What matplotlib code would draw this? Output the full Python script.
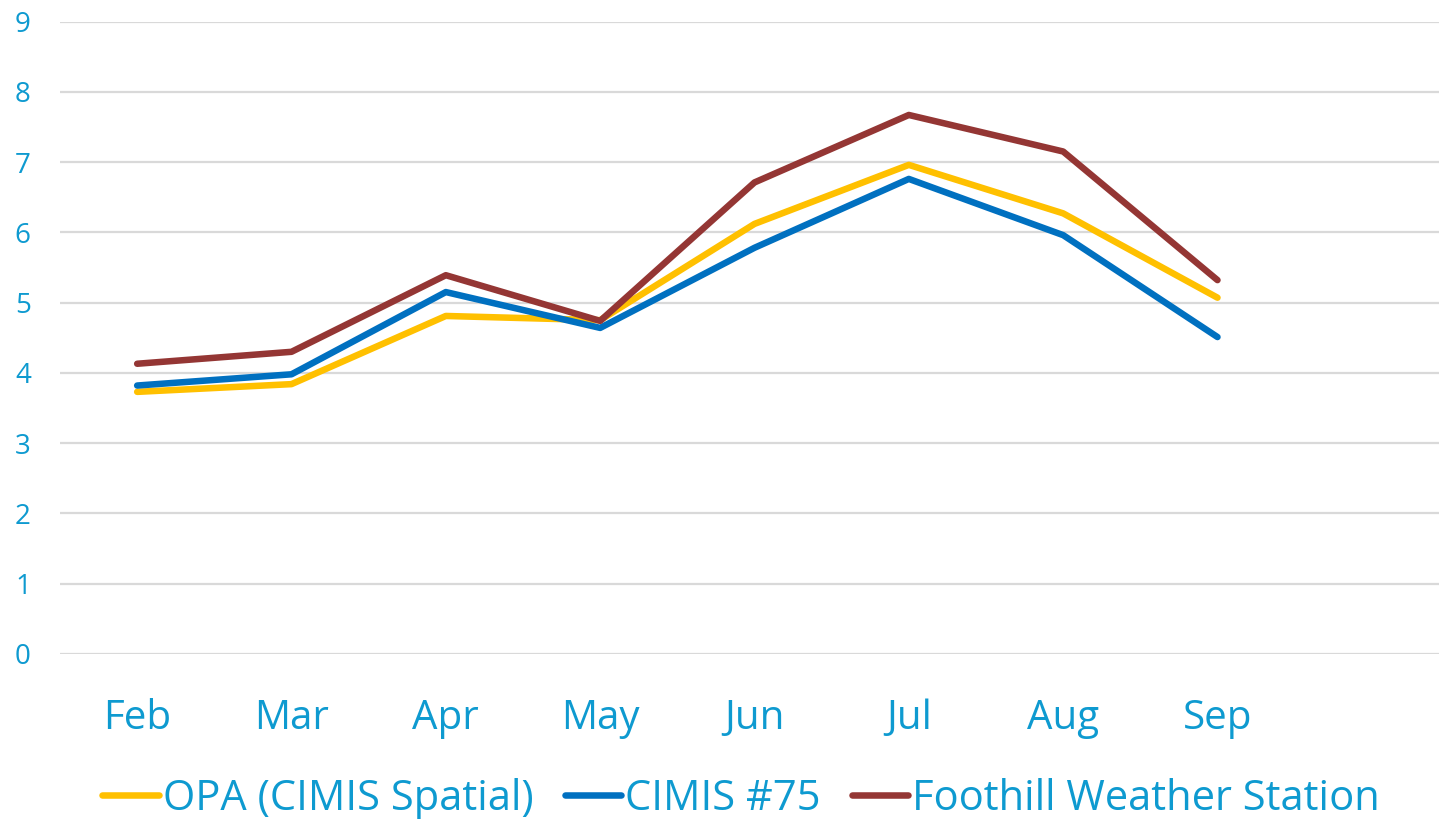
import matplotlib
matplotlib.use('Agg')
import matplotlib.pyplot as plt

#data
months = ['Feb', 'Mar', 'Apr', 'May', 'Jun', 'Jul', 'Aug', 'Sep']
opa = [3.73, 3.84, 4.81, 4.75, 6.12, 6.96, 6.27, 5.07]
cimis75 = [3.82, 3.98, 5.15, 4.64, 5.78, 6.76, 5.96, 4.51]
foothill = [4.13, 4.30, 5.39, 4.74, 6.71, 7.67, 7.15, 5.32]

text_color = '#0E9AD0'
plt.rcParams['font.family'] = ['Open Sans', 'DejaVu Sans']

fig = plt.figure(figsize=(14.39, 8.19), dpi=100)
ax = fig.add_axes([60/1439, 1-654/819, 1389/1439, (654-21.5)/819])

x = range(len(months))
lw = 4.7
ax.plot(x, opa, color='#FFC000', lw=lw, solid_capstyle='round', solid_joinstyle='round', label='OPA (CIMIS Spatial)', zorder=3)
ax.plot(x, cimis75, color='#0070C0', lw=lw, solid_capstyle='round', solid_joinstyle='round', label='CIMIS #75', zorder=4)
ax.plot(x, foothill, color='#943634', lw=lw, solid_capstyle='round', solid_joinstyle='round', label='Foothill Weather Station', zorder=5)

ax.set_xlim(-0.5, 8.5)
ax.set_ylim(0, 9)
ax.set_yticks(range(10))
ax.set_xticks(list(x))
ax.set_xticklabels(months)

for s in ax.spines.values():
    s.set_visible(False)
ax.grid(axis='y', color='#D9D9D9', lw=1.6)
ax.set_axisbelow(True)
ax.tick_params(axis='y', length=0, pad=21, labelsize=20, labelcolor=text_color)
ax.tick_params(axis='x', length=0, pad=32, labelsize=29, labelcolor=text_color)

leg = fig.legend(loc='lower center', bbox_to_anchor=(0.515, -0.047), ncol=3, frameon=False,
                 fontsize=30, handlelength=1.35, handletextpad=0.1, columnspacing=0.75)
for t in leg.get_texts():
    t.set_color(text_color)

plt.savefig('out.png', dpi=100)
